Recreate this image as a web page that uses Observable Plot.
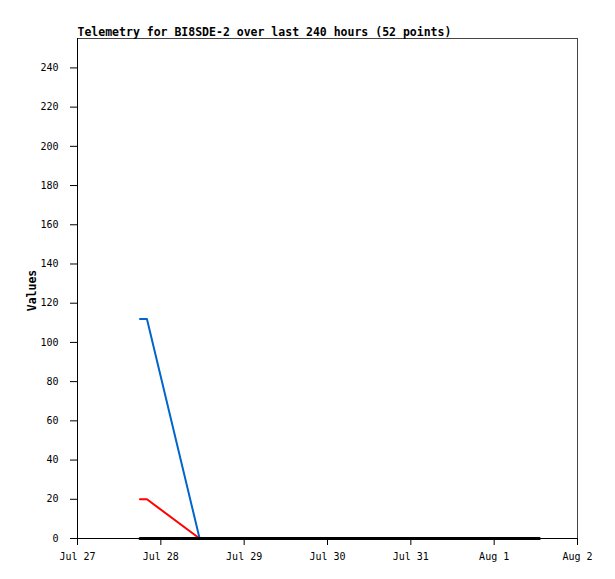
<!DOCTYPE html>
<html>
<head>
<meta charset="utf-8">
<script src="https://cdn.jsdelivr.net/npm/d3@7"></script>
<script src="https://cdn.jsdelivr.net/npm/@observablehq/plot@0.6"></script>
<style>
  html, body { margin: 0; padding: 0; background: #fff; }
</style>
</head>
<body>
<div id="chart"></div>
<script>
const titleText = "Telemetry for BI8SDE-2 over last 240 hours (52 points)";
const yLabel = "Values";
const times = ["2023-07-27T18:00", "2023-07-27T20:00", "2023-07-28T11:10", "2023-08-01T13:00"];
const blueValues = [112, 112, 0, 0];
const redValues = [20, 20, 0, 0];
const blackValues = [0, 0, 0, 0];
const xTickLabels = ["2023-07-27", "2023-07-28", "2023-07-29", "2023-07-30", "2023-07-31", "2023-08-01", "2023-08-02"];
const yTicks = [0, 20, 40, 60, 80, 100, 120, 140, 160, 180, 200, 220, 240];
const xDomain = ["2023-07-27T00:00", "2023-08-02T00:00"];
const yDomain = [0, 255];

const parse = s => new Date(s);
const mk = vals => times.map((t, i) => ({t: parse(t), v: vals[i]}));
const blue = mk(blueValues), red = mk(redValues), black = mk(blackValues);
const xTicks = xTickLabels.map(s => new Date(s + "T00:00"));

const font = "'DejaVu Sans Mono', 'Liberation Mono', monospace";

const chart = Plot.plot({
  width: 615,
  height: 579,
  marginLeft: 77,
  marginRight: 38,
  marginTop: 38,
  marginBottom: 41,
  style: {fontFamily: font, fontSize: "10px", color: "#000", background: "#fff"},
  x: {type: "time", domain: xDomain.map(parse)},
  y: {domain: yDomain},
  marks: [
    Plot.frame({stroke: "#444", strokeWidth: 1}),
    Plot.axisY({ticks: yTicks, tickSize: 7, tickPadding: 12, label: null, tickFormat: d => String(d), stroke: "#000"}),
    Plot.axisX({ticks: xTicks, tickSize: 7, tickPadding: 7, label: null, tickFormat: d3.timeFormat("%b %-d"), stroke: "#000"}),
    Plot.ruleX([parse(xDomain[0])], {stroke: "#000", strokeWidth: 1}),
    Plot.ruleY([0], {stroke: "#000", strokeWidth: 1}),
    Plot.line(blue, {x: "t", y: "v", stroke: "#0066cc", strokeWidth: 2}),
    Plot.line(red, {x: "t", y: "v", stroke: "#ff0000", strokeWidth: 2}),
    Plot.line(black, {x: "t", y: "v", stroke: "#000", strokeWidth: 3}),
    Plot.text([titleText], {frameAnchor: "top-left", textAnchor: "start", lineAnchor: "bottom", dy: -3, fontWeight: "bold", fontSize: 11.5, fill: "#000"}),
    Plot.text([yLabel], {frameAnchor: "left", textAnchor: "middle", lineAnchor: "middle", dx: -45, dy: 2, rotate: -90, fontWeight: "bold", fontSize: 11.5, fill: "#000"})
  ]
});
document.getElementById("chart").appendChild(chart);
</script>
</body>
</html>
